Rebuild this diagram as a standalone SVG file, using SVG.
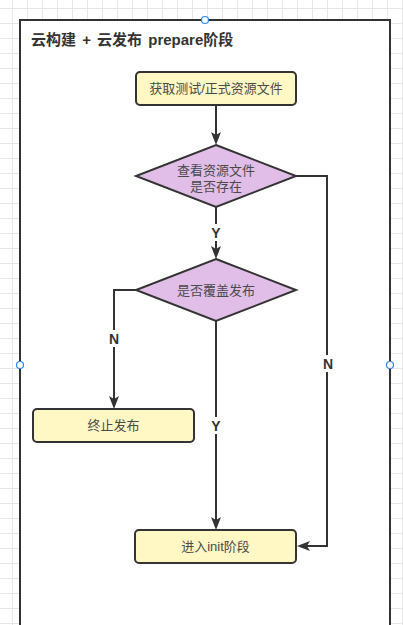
<svg xmlns="http://www.w3.org/2000/svg" width="403" height="625" viewBox="0 0 403 625">
  <defs>
    <pattern id="grid" patternUnits="userSpaceOnUse" x="12" y="8" width="15" height="15">
      <rect width="15" height="15" fill="#ffffff"/>
      <path d="M0.5,0 V15 M0,0.5 H15" stroke="#e6e6e6" stroke-width="1" fill="none"/>
    </pattern>
    <marker id="arrow" viewBox="0 0 13 10" refX="3" refY="5" markerWidth="13" markerHeight="10" markerUnits="userSpaceOnUse" orient="auto">
      <path d="M0,0 L13,5 L0,10 L3,5 Z" fill="#333333"/>
    </marker>
  </defs>
  <style>
    .process { fill: #fff8c4; stroke: #333333; stroke-width: 2; }
    .decision { fill: #e1bee7; stroke: #333333; stroke-width: 2; }
    .label { font-family: "Liberation Sans", "Noto Sans CJK SC", sans-serif; font-size: 13px; fill: #4a4a4a; text-anchor: middle; }
    .edge { fill: none; stroke: #333333; stroke-width: 2; }
    .edgelabel { font-family: "Liberation Sans", Arial, sans-serif; font-size: 14px; font-weight: bold; fill: #333333; text-anchor: middle; }
    .handle { fill: #ffffff; stroke: #2b85f0; stroke-width: 1.2; }
  </style>

  <rect x="0" y="0" width="403" height="625" fill="url(#grid)"/>

  <g id="container">
    <rect x="20" y="20" width="370" height="700" fill="#ffffff" stroke="#333333" stroke-width="2"/>
    <text x="31" y="45" font-family="'Liberation Sans', 'Noto Sans CJK SC', sans-serif" font-size="15" font-weight="bold" word-spacing="2" fill="#333333">云构建 + 云发布 prepare阶段</text>
  </g>

  <g id="connectors">
    <path class="edge" d="M216,105 V135" marker-end="url(#arrow)"/>
    <path class="edge" d="M216,207 V249" marker-end="url(#arrow)"/>
    <path class="edge" d="M136,290 H114 V399" marker-end="url(#arrow)"/>
    <path class="edge" d="M216,321 V520" marker-end="url(#arrow)"/>
    <path class="edge" d="M296,176 H327 V546 H307" marker-end="url(#arrow)"/>
    <rect x="209" y="224" width="14" height="17" fill="#ffffff"/>
    <text class="edgelabel" x="216" y="238">Y</text>
    <rect x="107" y="330" width="14" height="17" fill="#ffffff"/>
    <text class="edgelabel" x="114" y="344">N</text>
    <rect x="209" y="417" width="14" height="17" fill="#ffffff"/>
    <text class="edgelabel" x="216" y="431">Y</text>
    <rect x="320" y="355" width="14" height="17" fill="#ffffff"/>
    <text class="edgelabel" x="328" y="369">N</text>
  </g>

  <g id="node-fetch">
    <rect class="process" x="136" y="72" width="160" height="33" rx="4"/>
    <text class="label" x="216" y="93">获取测试/正式资源文件</text>
  </g>

  <g id="node-check-exists">
    <polygon class="decision" points="216,145 296,176 216,207 136,176"/>
    <text class="label" x="216" y="175">查看资源文件</text>
    <text class="label" x="216" y="191">是否存在</text>
  </g>

  <g id="node-check-overwrite">
    <polygon class="decision" points="216,259 296,290 216,321 136,290"/>
    <text class="label" x="216" y="295">是否覆盖发布</text>
  </g>

  <g id="node-stop">
    <rect class="process" x="33" y="409" width="161" height="33" rx="4"/>
    <text class="label" x="113.5" y="430">终止发布</text>
  </g>

  <g id="node-init">
    <rect class="process" x="135" y="530" width="161" height="33" rx="4"/>
    <text class="label" x="215.5" y="551">进入init阶段</text>
  </g>

  <g id="handles">
    <circle class="handle" cx="205" cy="20" r="3.5"/>
    <circle class="handle" cx="20" cy="365" r="3.5"/>
    <circle class="handle" cx="390" cy="365" r="3.5"/>
  </g>
</svg>
